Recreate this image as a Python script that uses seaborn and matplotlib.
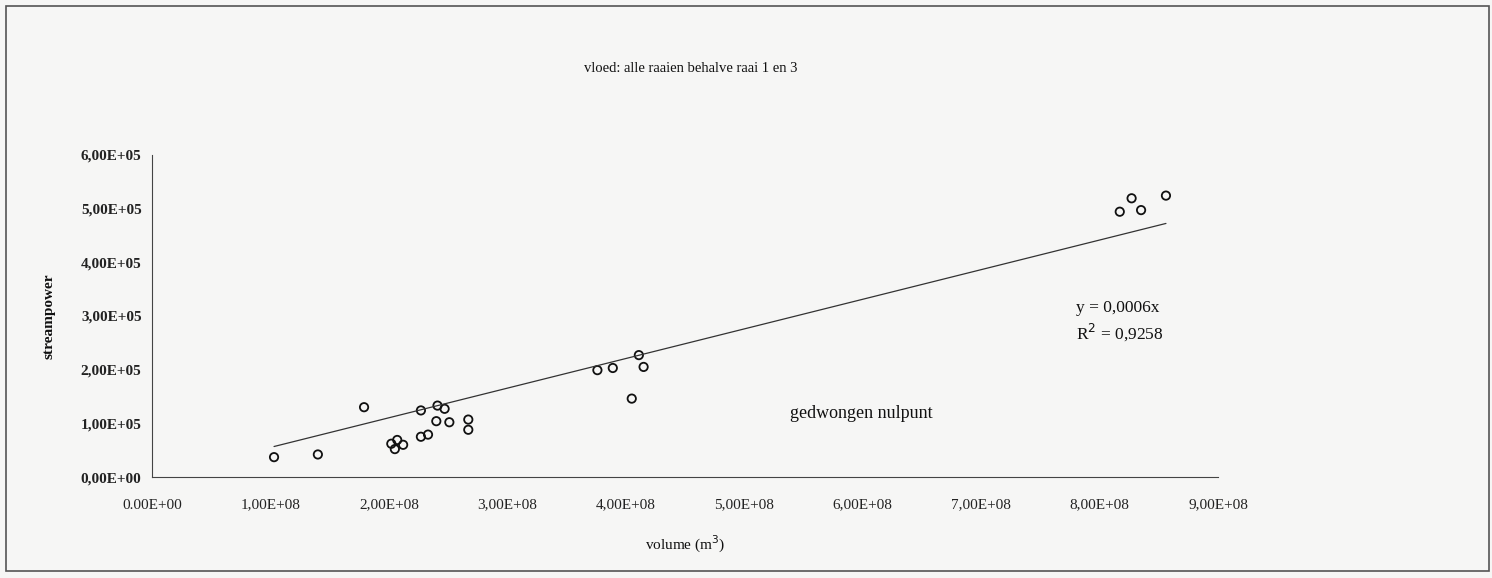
import numpy as np
import pandas as pd
import matplotlib
matplotlib.use("Agg")
import matplotlib.pyplot as plt
import seaborn as sns

# Flood-tide measurements: tidal volume (m3) against stream power
volume = [1.03e8, 1.40e8, 1.79e8, 2.02e8, 2.07e8, 2.05e8, 2.12e8, 2.27e8, 2.33e8,
          2.27e8, 2.41e8, 2.47e8, 2.40e8, 2.51e8, 2.67e8, 2.67e8, 3.76e8, 3.89e8,
          4.11e8, 4.15e8, 4.05e8, 8.17e8, 8.27e8, 8.35e8, 8.56e8]
streampower = [0.37e5, 0.42e5, 1.30e5, 0.62e5, 0.69e5, 0.52e5, 0.60e5, 0.75e5, 0.79e5,
               1.24e5, 1.33e5, 1.27e5, 1.04e5, 1.02e5, 1.07e5, 0.88e5, 1.99e5, 2.03e5,
               2.27e5, 2.05e5, 1.46e5, 4.94e5, 5.19e5, 4.97e5, 5.24e5]

x_ticks = [0, 1e8, 2e8, 3e8, 4e8, 5e8, 6e8, 7e8, 8e8, 9e8]
x_ticklabels = ["0.00E+00", "1,00E+08", "2,00E+08", "3,00E+08", "4,00E+08",
                "5,00E+08", "6,00E+08", "7,00E+08", "8,00E+08", "9,00E+08"]
y_ticks = [0, 1e5, 2e5, 3e5, 4e5, 5e5, 6e5]
y_ticklabels = ["0,00E+00", "1,00E+05", "2,00E+05", "3,00E+05",
                "4,00E+05", "5,00E+05", "6,00E+05"]

title = "vloed: alle raaien behalve raai 1 en 3"
eq_label = "y = 0,0006x"
r2_label = "R$^2$ = 0,9258"
note = "gedwongen nulpunt"

df = pd.DataFrame({"volume": volume, "streampower": streampower})

# Regression forced through the origin
slope = np.sum(df.volume * df.streampower) / np.sum(df.volume ** 2)
fit = pd.DataFrame({"volume": [df.volume.min(), df.volume.max()]})
fit["streampower"] = slope * fit.volume

sns.set_theme(style="white")
plt.rcParams["font.family"] = ["Liberation Serif", "DejaVu Serif"]

bg = "#f6f6f5"
fig = plt.figure(figsize=(14.92, 5.78), dpi=100, facecolor=bg)
ax = fig.add_axes([0.1019, 0.1747, 0.7145, 0.5575])
ax.set_facecolor(bg)

sns.lineplot(data=fit, x="volume", y="streampower", ax=ax, color="#333333",
             linewidth=0.9)
sns.scatterplot(data=df, x="volume", y="streampower", ax=ax, s=36,
                facecolor="none", edgecolor="#111111", linewidth=1.3, marker="o")

ax.set_xlim(0, 9e8)
ax.set_ylim(0, 6e5)
ax.set_xticks(x_ticks)
ax.set_xticklabels(x_ticklabels)
ax.set_yticks(y_ticks)
ax.set_yticklabels(y_ticklabels)
ax.tick_params(axis="both", direction="inout", length=7, width=0.8,
               colors="#222222", labelsize=11, pad=12)
ax.tick_params(axis="y", pad=4)
for lab in ax.get_yticklabels():
    lab.set_fontweight("bold")

sns.despine(ax=ax)
for side in ("left", "bottom"):
    ax.spines[side].set_color("#444444")
    ax.spines[side].set_linewidth(0.8)

ax.set_xlabel("volume (m$^3$)", fontsize=11, labelpad=16, color="#111111")
ax.set_ylabel("streampower", fontsize=11, fontweight="bold", labelpad=18,
              color="#111111")

fig.text(0.463, 0.882, title, ha="center", va="center", fontsize=10.5,
         color="#111111")
ax.text(7.80e8, 3.15e5, eq_label, fontsize=12.5, color="#111111", va="center")
ax.text(7.80e8, 2.70e5, r2_label, fontsize=12.5, color="#111111", va="center")
ax.text(5.99e8, 1.19e5, note, fontsize=13, color="#111111", ha="center",
        va="center")

# Outer chart frame
frame = plt.Rectangle((0.004, 0.012), 0.994, 0.978, transform=fig.transFigure,
                      fill=False, edgecolor="#555555", linewidth=1.2)
fig.patches.append(frame)

fig.savefig("out.png", dpi=100, facecolor=bg)
